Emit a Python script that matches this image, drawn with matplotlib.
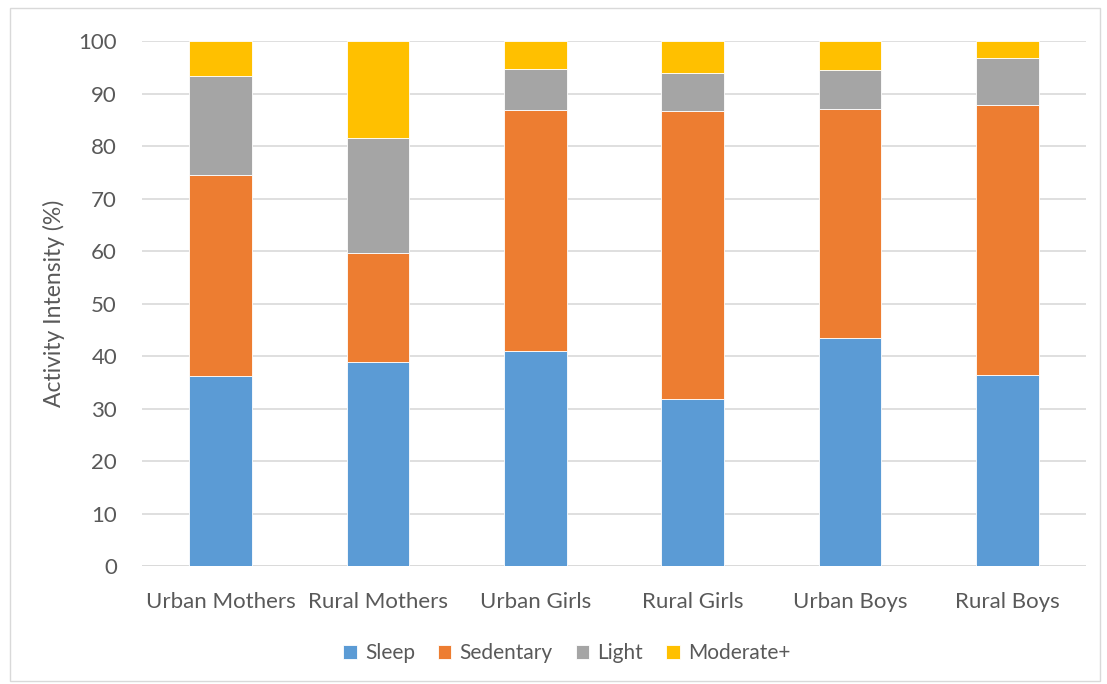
import matplotlib.pyplot as plt
import numpy as np
from matplotlib.patches import Rectangle

plt.rcParams['font.family'] = ['Lato', 'DejaVu Sans']

groups = ['Urban Mothers', 'Rural Mothers', 'Urban Girls', 'Rural Girls', 'Urban Boys', 'Rural Boys']
sleep = [36.1, 38.8, 41.0, 31.8, 43.4, 36.3]
sedentary = [38.4, 20.8, 45.9, 54.9, 43.6, 51.6]
light = [18.9, 21.9, 7.8, 7.2, 7.4, 8.9]
moderate = [6.6, 18.5, 5.3, 6.1, 5.6, 3.2]

series = [('Sleep', sleep, '#5B9BD5'),
          ('Sedentary', sedentary, '#ED7D31'),
          ('Light', light, '#A5A5A5'),
          ('Moderate+', moderate, '#FFC000')]

fig = plt.figure(figsize=(11.07, 6.84), dpi=100)
ax = fig.add_axes([0.1283, 0.1725, 0.8527, 0.7675])

x = np.arange(len(groups))
bottom = np.zeros(len(groups))
for name, vals, col in series:
    ax.bar(x, vals, 0.4, bottom=bottom, color=col, label=name,
           edgecolor='white', linewidth=0.6, zorder=3)
    bottom += np.array(vals)

ax.set_xlim(-0.5, len(groups) - 0.5)
ax.set_ylim(0, 100)
ax.set_yticks(range(0, 101, 10))
ax.yaxis.grid(True, color='#D9D9D9', linewidth=1.2, zorder=0)
ax.set_xticks(x)
ax.set_xticklabels(groups)
ax.tick_params(axis='both', length=0, labelsize=16, colors='#595959')
ax.tick_params(axis='y', pad=18)
ax.tick_params(axis='x', pad=19)
for s in ax.spines.values():
    s.set_visible(False)
ax.axhline(0, color='#D9D9D9', linewidth=1.2, zorder=1)

ax.set_ylabel('Activity Intensity (%)', fontsize=16.5, color='#595959', labelpad=10)

leg = fig.legend(loc='center', bbox_to_anchor=(0.512, 0.045), ncol=4, frameon=False,
                 fontsize=15, handlelength=0.65, handleheight=0.65, handletextpad=0.4,
                 columnspacing=1.1)
for t in leg.get_texts():
    t.set_color('#595959')

fig.patches.append(Rectangle((0.009, 0.004), 0.985, 0.985, transform=fig.transFigure,
                             fill=False, edgecolor='#D9D9D9', linewidth=1))

fig.savefig('out.png', dpi=100)
